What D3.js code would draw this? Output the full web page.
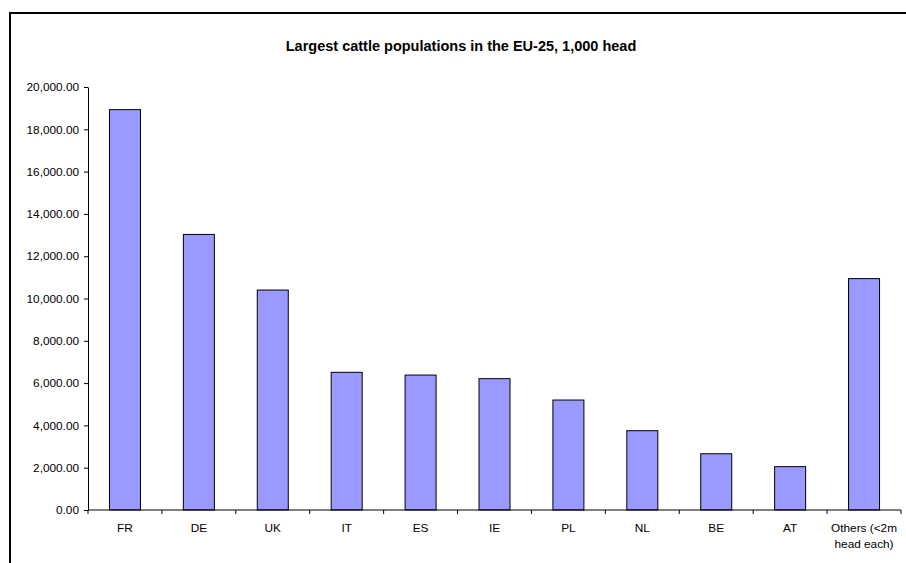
<!DOCTYPE html>
<html>
<head>
<meta charset="utf-8">
<script src="https://cdn.jsdelivr.net/npm/d3@7"></script>
<style>
  body { margin: 0; background: #fff; }
  svg { font-family: "Liberation Sans", Arial, sans-serif; }
</style>
</head>
<body>
<svg id="chart" width="906" height="563"></svg>
<script>
var categories = ["FR", "DE", "UK", "IT", "ES", "IE", "PL", "NL", "BE", "AT", "Others (<2m head each)"];
var values = [18930, 13030, 10400, 6510, 6380, 6210, 5200, 3750, 2660, 2050, 10940];
var yTicks = [0, 2000, 4000, 6000, 8000, 10000, 12000, 14000, 16000, 18000, 20000];
var title = "Largest cattle populations in the EU-25, 1,000 head";

var margin = {top: 87, right: 5, bottom: 53, left: 88};
var width = 906 - margin.left - margin.right;
var height = 563 - margin.top - margin.bottom;

var svg = d3.select('#chart');

// outer chart-area frame, runs off the right and bottom edges
svg.append('rect')
    .attr('x', 10).attr('y', 13)
    .attr('width', 950).attr('height', 600)
    .attr('fill', 'none')
    .attr('stroke', '#000')
    .attr('stroke-width', 2);

svg.append('text')
    .attr('x', 461).attr('y', 51)
    .attr('text-anchor', 'middle')
    .style('font-size', '14.5px')
    .style('font-weight', 'bold')
    .text(title);

var g = svg.append('g')
    .attr('transform', `translate(${margin.left}, ${margin.top})`);

var xScale = d3.scaleBand().domain(categories).range([0, width]);
var yScale = d3.scaleLinear().domain([0, 20000]).range([height, 0]);
var barW = 31;

// bars
g.selectAll('rect.bar')
    .data(values)
    .enter().append('rect')
    .attr('class', 'bar')
    .attr('x', (d, i) => xScale(categories[i]) + xScale.bandwidth() / 2 - barW / 2)
    .attr('width', barW)
    .attr('y', d => yScale(d))
    .attr('height', d => height - yScale(d))
    .attr('fill', '#9999FF')
    .attr('stroke', '#000')
    .attr('stroke-width', 1);

// y axis
var yAxis = g.append('g')
    .call(d3.axisLeft(yScale).tickValues(yTicks).tickSize(4).tickSizeOuter(0)
      .tickFormat(d3.format(',.2f')));
yAxis.select('.domain').attr('stroke', '#000');
yAxis.selectAll('text').style('font-size', '11.8px').attr('fill', '#000').attr('dx', '-2');

// x axis: ticks between categories
var xAxis = g.append('g').attr('transform', `translate(0, ${height})`);
xAxis.append('line')
    .attr('x1', 0).attr('x2', width)
    .attr('stroke', '#000');
xAxis.selectAll('line.tick')
    .data(d3.range(categories.length + 1))
    .enter().append('line')
    .attr('class', 'tick')
    .attr('x1', i => i * xScale.step()).attr('x2', i => i * xScale.step())
    .attr('y1', 0).attr('y2', 4)
    .attr('stroke', '#000');

var labels = xAxis.selectAll('text.lab')
    .data(categories)
    .enter().append('text')
    .attr('class', 'lab')
    .attr('y', 22)
    .attr('text-anchor', 'middle')
    .style('font-size', '11.8px');

labels.each(function(d) {
  var lines = d === "Others (<2m head each)" ? ["Others (<2m", "head each)"] : [d];
  var t = d3.select(this);
  lines.forEach(function(l, k) {
    t.append('tspan')
      .attr('x', xScale(d) + xScale.bandwidth() / 2)
      .attr('dy', k === 0 ? 0 : 15.5)
      .text(l);
  });
});
</script>
</body>
</html>
